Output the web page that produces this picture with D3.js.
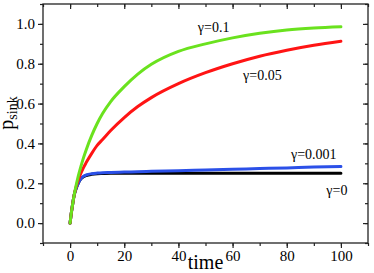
<!DOCTYPE html>
<html>
<head>
<meta charset="utf-8">
<script src="https://cdn.jsdelivr.net/npm/d3@7"></script>
<style>
  body { margin: 0; background: #fff; }
  svg { display: block; }
</style>
</head>
<body>
<svg width="374" height="273"></svg>
<script>
const svg = d3.select('svg');
const serif = '"Liberation Serif", serif';

// time points shared by all curves
const times = [0, 0.5, 1, 1.5, 2, 3, 4, 5, 6, 8, 10, 12, 15, 20, 25, 30, 40, 50, 60, 70, 80, 90, 100];

// p_sink for each gamma
const gamma0 = [0, 0.055, 0.10, 0.14, 0.165, 0.2, 0.222, 0.233, 0.239, 0.245, 0.248, 0.249, 0.25, 0.25, 0.25, 0.25, 0.25, 0.25, 0.25, 0.25, 0.25, 0.25, 0.25];
const gamma001 = [0, 0.055, 0.10, 0.14, 0.165, 0.2, 0.223, 0.235, 0.242, 0.248, 0.251, 0.253, 0.254, 0.256, 0.258, 0.26, 0.263, 0.267, 0.27, 0.274, 0.277, 0.281, 0.284];
const gamma005 = [0, 0.055, 0.10, 0.14, 0.17, 0.215, 0.25, 0.28, 0.305, 0.35, 0.39, 0.42, 0.465, 0.53, 0.585, 0.63, 0.70, 0.755, 0.80, 0.838, 0.868, 0.893, 0.913];
const gamma01 = [0, 0.055, 0.10, 0.14, 0.175, 0.235, 0.285, 0.33, 0.37, 0.44, 0.50, 0.55, 0.61, 0.685, 0.748, 0.797, 0.862, 0.90, 0.93, 0.953, 0.97, 0.98, 0.986];

const seriesNames = ['γ=0', 'γ=0.001', 'γ=0.05', 'γ=0.1'];
const seriesValues = [gamma0, gamma001, gamma005, gamma01];
const seriesColors = ['#000000', '#2b50e8', '#ff1414', '#6ae21e'];
// where each label sits, in data units (t, p)
const labelPos = [[98.5, 0.14], [90, 0.323], [71, 0.72], [53, 0.958]];

const xTicks = [0, 20, 40, 60, 80, 100];
const yTicks = [0.0, 0.2, 0.4, 0.6, 0.8, 1.0];

const margin = { top: 4, right: 6, bottom: 30, left: 43 };
const width = +svg.attr('width');
const height = +svg.attr('height');
const innerWidth = width - margin.left - margin.right;
const innerHeight = height - margin.top - margin.bottom;

const xScale = d3.scaleLinear().domain([-10, 110]).range([0, innerWidth]);
const yScale = d3.scaleLinear().domain([-0.1, 1.1]).range([innerHeight, 0]);

const g = svg.append('g')
  .attr('transform', `translate(${margin.left},${margin.top})`);

// curves
const line = d3.line()
  .x((d, i) => xScale(times[i]))
  .y(d => yScale(d))
  .curve(d3.curveMonotoneX);

seriesValues.forEach((vals, k) => {
  g.append('path')
    .attr('d', line(vals))
    .attr('fill', 'none')
    .attr('stroke', seriesColors[k])
    .attr('stroke-width', 3)
    .attr('stroke-linecap', 'round');
});

// axes
const xMinor = d3.range(-10, 111, 10);
const yMinor = d3.range(-0.1, 1.11, 0.1);

const styleAxis = sel => {
  sel.select('.domain').remove();
  sel.selectAll('line').attr('stroke', '#222').attr('stroke-width', 1.2);
  sel.selectAll('text')
    .attr('fill', '#000')
    .style('font-family', serif)
    .style('font-size', '15px');
};
const bare = sel => sel.selectAll('text').remove();

// bottom
g.append('g').attr('transform', `translate(0,${innerHeight})`)
  .call(d3.axisBottom(xScale).tickValues(xMinor).tickSize(3))
  .call(styleAxis).call(bare);
g.append('g').attr('transform', `translate(0,${innerHeight})`)
  .call(d3.axisBottom(xScale).tickValues(xTicks).tickSize(5).tickPadding(2).tickFormat(d3.format('d')))
  .call(styleAxis);
// top (inward)
g.append('g')
  .call(d3.axisBottom(xScale).tickValues(xMinor).tickSize(3))
  .call(styleAxis).call(bare);
g.append('g')
  .call(d3.axisBottom(xScale).tickValues(xTicks).tickSize(5))
  .call(styleAxis).call(bare);
// left
g.append('g')
  .call(d3.axisLeft(yScale).tickValues(yMinor).tickSize(3))
  .call(styleAxis).call(bare);
g.append('g')
  .call(d3.axisLeft(yScale).tickValues(yTicks).tickSize(5).tickPadding(3).tickFormat(d3.format('.1f')))
  .call(styleAxis);
// right (inward)
g.append('g').attr('transform', `translate(${innerWidth},0)`)
  .call(d3.axisLeft(yScale).tickValues(yMinor).tickSize(3))
  .call(styleAxis).call(bare);
g.append('g').attr('transform', `translate(${innerWidth},0)`)
  .call(d3.axisLeft(yScale).tickValues(yTicks).tickSize(5))
  .call(styleAxis).call(bare);

// frame
g.append('rect')
  .attr('width', innerWidth)
  .attr('height', innerHeight)
  .attr('fill', 'none')
  .attr('stroke', '#222')
  .attr('stroke-width', 1.3);

// curve labels
seriesNames.forEach((name, k) => {
  g.append('text')
    .attr('x', xScale(labelPos[k][0]))
    .attr('y', yScale(labelPos[k][1]))
    .attr('text-anchor', 'middle')
    .style('font-family', serif)
    .style('font-size', '14px')
    .text(name);
});

// axis titles
svg.append('text')
  .attr('x', margin.left + innerWidth / 2)
  .attr('y', 269)
  .attr('text-anchor', 'middle')
  .style('font-family', serif)
  .style('font-size', '20px')
  .text('time');

const yTitle = svg.append('text')
  .attr('transform', 'translate(13,113) rotate(-90)')
  .attr('text-anchor', 'middle')
  .style('font-family', serif)
  .style('font-size', '20px');
yTitle.append('tspan').text('p');
yTitle.append('tspan').attr('dy', 4).style('font-size', '14px').text('sink');
</script>
</body>
</html>
